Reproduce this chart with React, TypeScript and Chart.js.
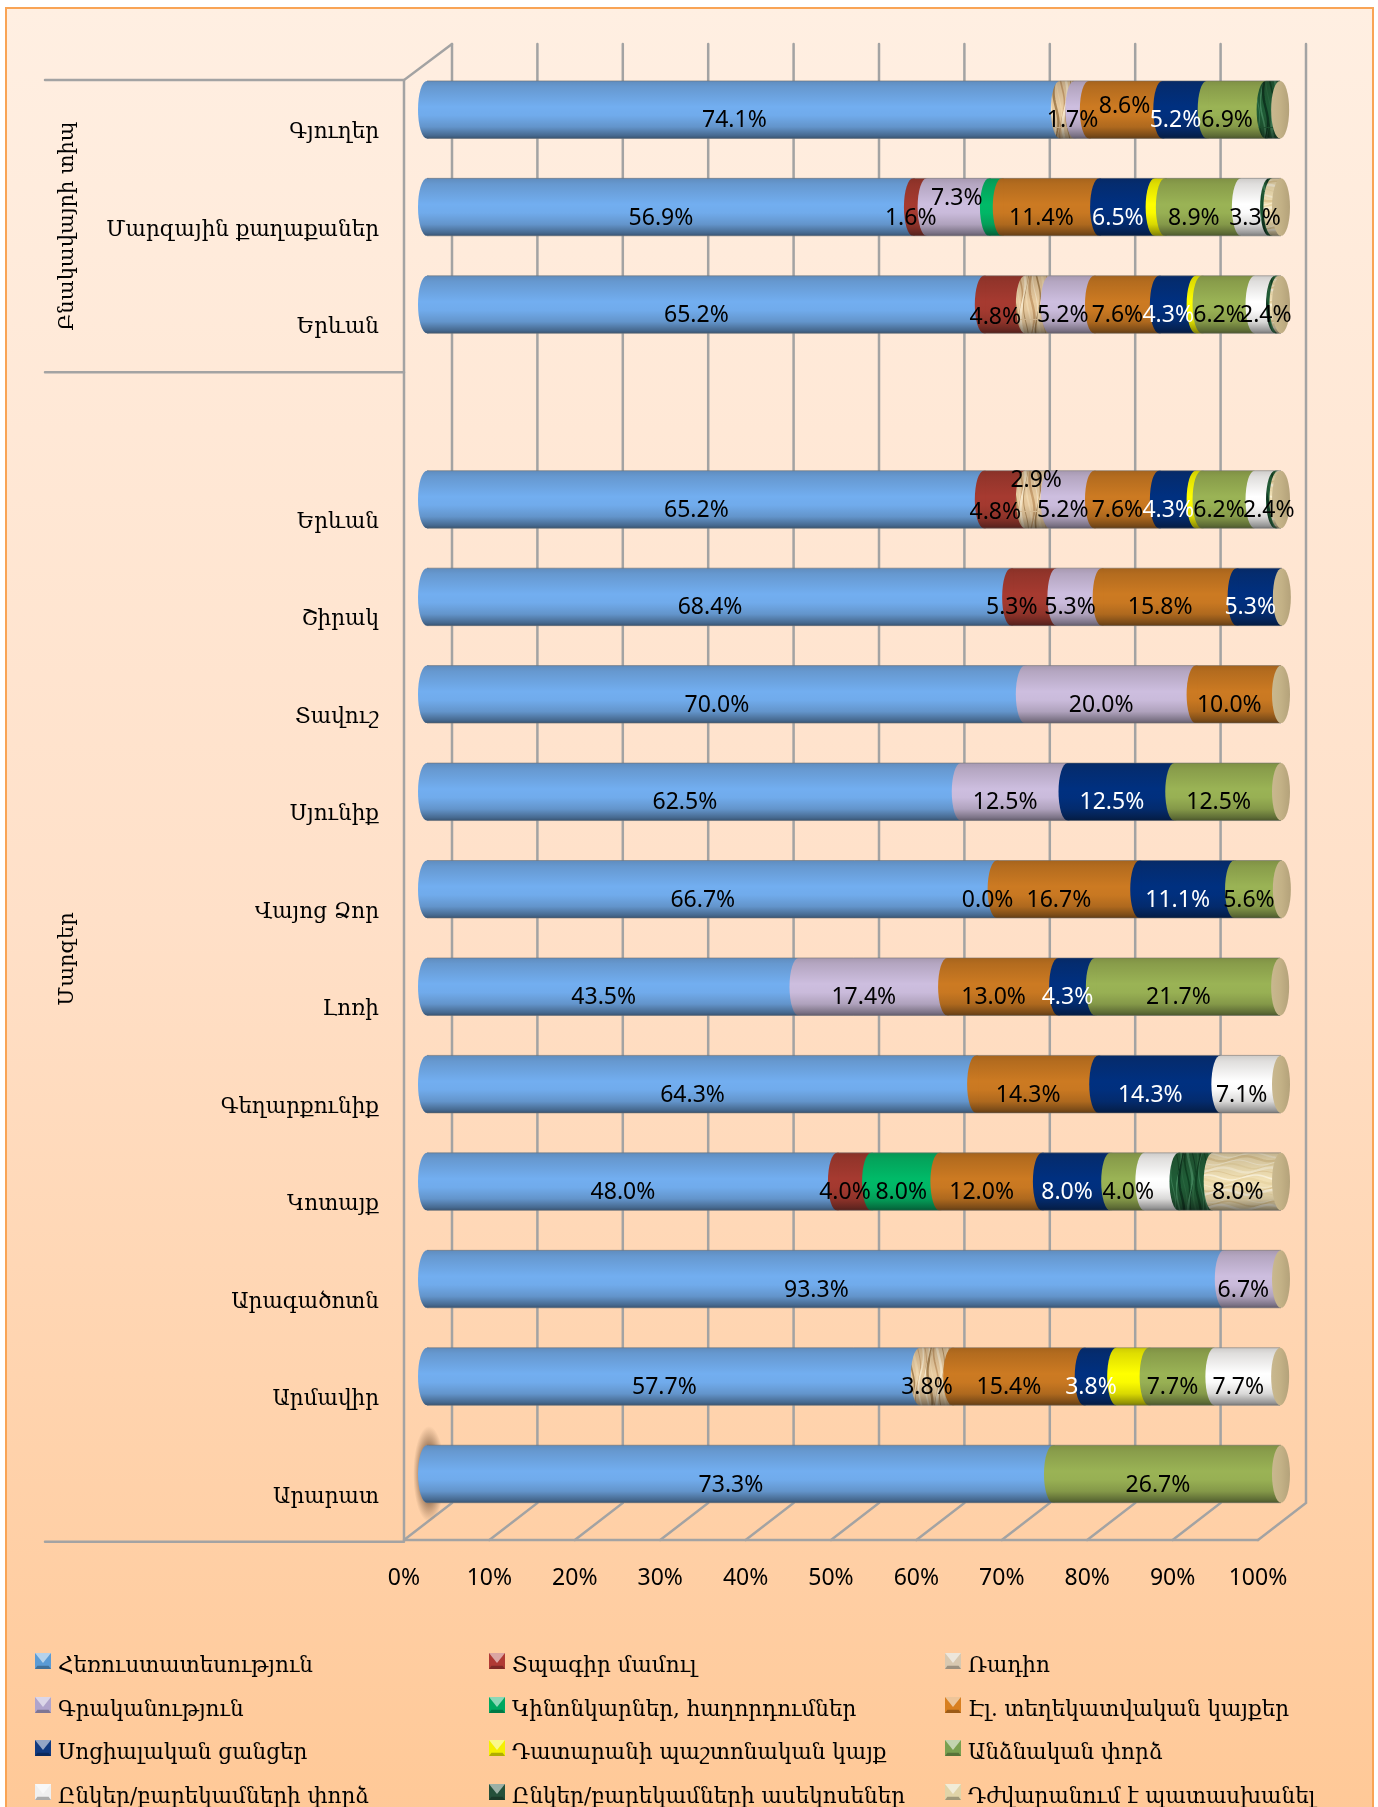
import React, { useEffect, useRef } from "react";
import { Chart, registerables } from "chart.js";

Chart.register(...registerables);

const n = null;
const categories = ["Գյուղեր", "Մարզային քաղաքաներ", "Երևան", "", "Երևան", "Շիրակ", "Տավուշ", "Սյունիք", "Վայոց Ձոր", "Լոռի", "Գեղարքունիք", "Կոտայք", "Արագածոտն", "Արմավիր", "Արարատ"];
const xTicks = [0, 10, 20, 30, 40, 50, 60, 70, 80, 90, 100];

const tv = [74.1, 56.9, 65.2, n, 65.2, 68.4, 70.0, 62.5, 66.7, 43.5, 64.3, 48.0, 93.3, 57.7, 73.3];
const print = [n, 1.6, 4.8, n, 4.8, 5.3, n, n, n, n, n, 4.0, n, n, n];
const radio = [1.7, n, 2.9, n, 2.9, n, n, n, n, n, n, n, n, 3.8, n];
const literature = [1.7, 7.3, 5.2, n, 5.2, 5.3, 20.0, 12.5, 0.0, 17.4, n, n, 6.7, n, n];
const films = [n, 1.5, n, n, n, n, n, n, n, n, n, 8.0, n, n, n];
const sites = [8.6, 11.4, 7.6, n, 7.6, 15.8, 10.0, n, 16.7, 13.0, 14.3, 12.0, n, 15.4, n];
const social = [5.2, 6.5, 4.3, n, 4.3, 5.3, n, 12.5, 11.1, 4.3, 14.3, 8.0, n, 3.8, n];
const court = [n, 1.2, 0.7, n, 0.7, n, n, n, n, n, n, n, n, 3.8, n];
const personal = [6.9, 8.9, 6.2, n, 6.2, n, n, 12.5, 5.6, 21.7, n, 4.0, n, 7.7, 26.7];
const friends = [n, 3.3, 2.4, n, 2.4, n, n, n, n, n, 7.1, 4.0, n, 7.7, n];
const gossip = [1.7, 0.4, 0.4, n, 0.4, n, n, n, n, n, n, 4.0, n, n, n];
const hard = [n, 1.0, 0.3, n, 0.3, n, n, n, n, n, n, 8.0, n, n, n];

const seriesNames = ["Հեռուստատեսություն", "Տպագիր մամուլ", "Ռադիո", "Գրականություն", "Կինոնկարներ, հաղորդումներ", "Էլ. տեղեկատվական կայքեր", "Սոցիալական ցանցեր", "Դատարանի պաշտոնական կայք", "Անձնական փորձ", "Ընկեր/բարեկամների փորձ", "Ընկեր/բարեկամների ասեկոսեներ", "Դժվարանում է պատասխանել"];
const seriesValues = [tv, print, radio, literature, films, sites, social, court, personal, friends, gossip, hard];
const seriesColors = ["#72AEF0", "#A63A30", "#E6C79A", "#CDBEDF", "#00BA68", "#CC7A22", "#003080", "#FFFF00", "#9AB355", "#FFFFFF", "#1B5530", "#EFDDB0"];
const legendColors = ["#5B9BD5", "#B03A34", "#D8C8B0", "#B0A4CC", "#00A860", "#D87F20", "#103A80", "#F4F000", "#79A050", "#F0F0F0", "#24503A", "#E0D4A8"];
const labelColors = ["#000", "#000", "#000", "#000", "#000", "#000", "#FFF", "#000", "#000", "#000", "#000", "#000"];

const groups = [
  { name: "Բնակավայրի տիպ", first: 0, last: 3 },
  { name: "Մարզեր", first: 3, last: 15 },
];

// Labels that the reference leaves out, by series index: row numbers
const hiddenLabels: Record<number, number[]> = { 2: [0, 2], 4: [1], 7: [1, 2, 4, 13], 9: [11], 10: [0, 1, 2, 4, 11], 11: [1, 2, 4] };
// Labels moved aside in the reference: "series:row" -> [dx, dy]
const labelShift: Record<string, [number, number]> = {
  "5:0": [8, -14], "3:1": [8, -20], "2:4": [8, -30], "9:1": [9, 0], "9:2": [10, 0], "9:4": [13, 0],
  "1:5": [-13, 0], "4:11": [5, 0], "8:11": [10, 0], "1:2": [0, 2], "1:4": [0, 2],
};

const FONT_NUM = '"Noto Sans", sans-serif';
const FONT_ARM = '"DejaVu Serif", "DejaVu Sans", serif';
const RX = 9;
const DX = 25, DY = 18;

function texture(base: string, strokes: string[], w: number, h: number, across: boolean, count: number) {
  const c = document.createElement("canvas");
  c.width = w; c.height = h;
  const g = c.getContext("2d")!;
  g.fillStyle = base;
  g.fillRect(0, 0, w, h);
  const span = across ? h : w;
  const len = across ? w : h;
  for (let i = 0; i < count; i++) {
    g.strokeStyle = strokes[i % strokes.length];
    g.lineWidth = 0.8 + (i % 3) * 0.8;
    g.beginPath();
    const p0 = (i * span) / count;
    for (let t = 0; t <= len; t += 3) {
      const p = p0 + Math.sin((t / len) * Math.PI * 2 + i) * 2.5;
      const px = across ? t : p;
      const py = across ? p : t;
      if (t === 0) g.moveTo(px, py); else g.lineTo(px, py);
    }
    g.stroke();
  }
  return g.createPattern(c, "repeat")!;
}

const cylinderPlugin = {
  id: "cylinder",
  beforeDraw(chart: any) {
    const { ctx, width, height } = chart;
    ctx.save();
    ctx.fillStyle = "#FFFFFF";
    ctx.fillRect(0, 0, width, height);
    const g = ctx.createLinearGradient(0, 8, 0, 1830);
    g.addColorStop(0, "#FFEFE2");
    g.addColorStop(0.5, "#FFE0C8");
    g.addColorStop(1, "#FFC896");
    ctx.fillStyle = g;
    ctx.fillRect(6, 8, 1367, height);
    ctx.strokeStyle = "#F9A455";
    ctx.lineWidth = 2;
    ctx.strokeRect(6, 8, 1367, height + 10);
    ctx.restore();
  },
  beforeDatasetsDraw(chart: any) {
    const { ctx, scales } = chart;
    const x = scales.x, y = scales.y;
    const yTop = 44, yBack = 1503, yFront = 1540, yFrontTop = 80;
    ctx.save();
    ctx.strokeStyle = "#A3A3A3";
    ctx.lineWidth = 2.5;
    ctx.lineCap = "round";
    xTicks.forEach((t) => {
      const px = x.getPixelForValue(t);
      ctx.beginPath();
      ctx.moveTo(px + DX, yTop);
      ctx.lineTo(px + DX, yBack);
      ctx.lineTo(px - 23, yFront);
      ctx.stroke();
    });
    const x0 = x.getPixelForValue(0) - 23, x1 = x.getPixelForValue(100) - 23;
    ctx.beginPath();
    ctx.moveTo(x0 + 48, yTop);
    ctx.lineTo(x0, yFrontTop);
    ctx.lineTo(x0, yFront);
    ctx.lineTo(x1, yFront);
    ctx.stroke();
    // multi-level category separators
    const step = (y.bottom - y.top) / categories.length;
    ctx.beginPath();
    groups.forEach((gr) => {
      [gr.first, gr.last].forEach((b) => {
        const py = y.top + b * step + DY + 1;
        ctx.moveTo(45, py);
        ctx.lineTo(x0, py);
      });
    });
    ctx.stroke();
    // glow behind the first bar of the last row
    const cy = y.getPixelForValue(categories.length - 1);
    const cx = x.getPixelForValue(0) + 2;
    ctx.translate(cx, cy);
    ctx.scale(0.33, 1);
    const gl = ctx.createRadialGradient(0, 0, 0, 0, 0, 48);
    gl.addColorStop(0, "rgba(125,90,65,0.75)");
    gl.addColorStop(0.62, "rgba(135,100,72,0.68)");
    gl.addColorStop(1, "rgba(150,115,85,0)");
    ctx.fillStyle = gl;
    ctx.beginPath();
    ctx.arc(0, 0, 48, 0, Math.PI * 2);
    ctx.fill();
    ctx.restore();
  },
  afterDatasetsDraw(chart: any) {
    const { ctx, data } = chart;
    const metas = data.datasets.map((_: any, i: number) => chart.getDatasetMeta(i));
    ctx.save();
    // curved joints between the segments
    metas.forEach((m: any, i: number) => {
      m.data.forEach((el: any, r: number) => {
        if (data.datasets[i].data[r] == null || !(el.x > el.base)) return;
        const top = el.y - el.height / 2;
        const right = Math.min(el.base + 2, el.x);
        ctx.fillStyle = data.datasets[i].backgroundColor;
        ctx.beginPath();
        ctx.ellipse(el.base, el.y, RX, el.height / 2, 0, Math.PI / 2, (3 * Math.PI) / 2);
        ctx.lineTo(right, top);
        ctx.lineTo(right, top + el.height);
        ctx.closePath();
        ctx.fill();
      });
    });
    // cylinder shading and end caps
    categories.forEach((_, r) => {
      let lo = Infinity, hi = -Infinity, yc = 0, h = 0;
      metas.forEach((m: any, i: number) => {
        const el = m.data[r];
        if (data.datasets[i].data[r] == null || !(el.x > el.base)) return;
        lo = Math.min(lo, el.base); hi = Math.max(hi, el.x); yc = el.y; h = el.height;
      });
      if (hi < lo) return;
      const top = yc - h / 2;
      const g = ctx.createLinearGradient(0, top, 0, top + h);
      g.addColorStop(0, "rgba(30,20,10,0.22)");
      g.addColorStop(0.1, "rgba(30,20,10,0.14)");
      g.addColorStop(0.45, "rgba(30,20,10,0)");
      g.addColorStop(0.6, "rgba(30,20,10,0.02)");
      g.addColorStop(0.8, "rgba(20,15,10,0.16)");
      g.addColorStop(0.95, "rgba(10,10,10,0.42)");
      g.addColorStop(1, "rgba(10,10,10,0.55)");
      ctx.fillStyle = g;
      ctx.beginPath();
      ctx.ellipse(lo, yc, RX, h / 2, 0, Math.PI / 2, (3 * Math.PI) / 2);
      ctx.lineTo(hi, top);
      ctx.lineTo(hi, top + h);
      ctx.closePath();
      ctx.fill();
      ctx.strokeStyle = "rgba(110,110,110,0.55)";
      ctx.lineWidth = 1;
      ctx.beginPath();
      ctx.moveTo(lo, top); ctx.lineTo(hi, top);
      ctx.moveTo(lo, top + h); ctx.lineTo(hi, top + h);
      ctx.stroke();
      const cap = ctx.createLinearGradient(hi - RX, 0, hi + RX, 0);
      cap.addColorStop(0, "#C9B88F");
      cap.addColorStop(0.5, "#C3B186");
      cap.addColorStop(1, "#B4A27A");
      ctx.fillStyle = cap;
      ctx.beginPath();
      ctx.ellipse(hi, yc, RX, h / 2, 0, 0, Math.PI * 2);
      ctx.fill();
    });
    // value labels
    ctx.font = `23px ${FONT_NUM}`;
    ctx.textAlign = "center";
    ctx.textBaseline = "middle";
    metas.forEach((m: any, i: number) => {
      m.data.forEach((el: any, r: number) => {
        const v = data.datasets[i].data[r];
        if (v == null || (hiddenLabels[i] || []).includes(r)) return;
        const [dx, dy] = labelShift[`${i}:${r}`] || [0, 0];
        ctx.fillStyle = labelColors[i];
        ctx.fillText(`${v.toFixed(1)}%`, (el.base + el.x) / 2 - 9 + dx, el.y + 11 + dy);
      });
    });
    ctx.restore();
  },
  afterDraw(chart: any) {
    const { ctx, scales } = chart;
    const y = scales.y;
    const step = (y.bottom - y.top) / categories.length;
    ctx.save();
    ctx.fillStyle = "#000";
    ctx.font = `21px ${FONT_ARM}`;
    ctx.textAlign = "center";
    ctx.textBaseline = "middle";
    groups.forEach((gr) => {
      const py = y.top + ((gr.first + gr.last) / 2) * step + DY + (gr.first === 0 ? 1 : 3);
      ctx.save();
      ctx.translate(68, py);
      ctx.rotate(-Math.PI / 2);
      ctx.fillText(gr.name, 0, 0);
      ctx.restore();
    });
    // legend: three columns, four rows
    const colX = [35, 489, 945];
    const rowY = [1661, 1705, 1748, 1792];
    ctx.font = `21.5px ${FONT_ARM}`;
    ctx.textAlign = "left";
    seriesNames.forEach((name, i) => {
      const sx = colX[i % 3], sy = rowY[Math.floor(i / 3)];
      const s = 16;
      const l = sy - s / 2;
      ctx.fillStyle = legendColors[i];
      ctx.fillRect(sx, l, s, s);
      ctx.fillStyle = "rgba(255,255,255,0.55)";
      ctx.beginPath();
      ctx.moveTo(sx, l); ctx.lineTo(sx + s, l); ctx.lineTo(sx + s / 2, l + s * 0.62); ctx.closePath();
      ctx.fill();
      ctx.fillStyle = "rgba(0,0,0,0.28)";
      ctx.beginPath();
      ctx.moveTo(sx, l + s); ctx.lineTo(sx + s, l + s); ctx.lineTo(sx + s * 0.85, l + s * 0.8); ctx.lineTo(sx + s * 0.15, l + s * 0.8); ctx.closePath();
      ctx.fill();
      ctx.fillStyle = "#000";
      ctx.fillText(name, sx + 23, sy + 5);
    });
    ctx.restore();
  },
};

export default function App() {
  const ref = useRef<HTMLCanvasElement>(null);
  useEffect(() => {
    document.body.style.margin = "0";
    const canvas = ref.current!;
    const fills: any[] = seriesColors.slice();
    fills[2] = texture("#E8CBA0", ["#C9A070", "#F6E6C8", "#A98555", "#F0D8B0"], 42, 64, false, 14);
    fills[10] = texture("#1F5C36", ["#0F4022", "#3F8259", "#0D3620", "#2C6A42"], 28, 64, false, 10);
    fills[11] = texture("#F1E0B4", ["#F8EDCE", "#E3CC98", "#FAF1D8", "#EAD7A6"], 48, 60, true, 16);
    const chart = new Chart(canvas, {
      type: "bar",
      plugins: [cylinderPlugin],
      data: {
        labels: categories,
        datasets: seriesNames.map((label, i) => ({
          label,
          data: seriesValues[i],
          backgroundColor: fills[i],
          borderWidth: 0,
          categoryPercentage: 1,
          barPercentage: 0.59,
          clip: false,
        })),
      },
      options: {
        indexAxis: "y",
        animation: false,
        responsive: false,
        devicePixelRatio: 1,
        layout: { padding: { left: 0, right: 97, top: 60.8, bottom: 0 } },
        plugins: { legend: { display: false }, tooltip: { enabled: false }, title: { display: false } },
        scales: {
          x: {
            stacked: true,
            min: 0,
            max: 100,
            afterFit: (s: any) => { s.height = 284.3; },
            grid: { display: false, drawTicks: false },
            border: { display: false },
            afterBuildTicks: (s: any) => { s.ticks = xTicks.map((value) => ({ value })); },
            ticks: {
              autoSkip: false,
              maxRotation: 0,
              color: "#000",
              font: { family: FONT_NUM, size: 23 },
              padding: 42,
              labelOffset: -23,
              callback: (v: any) => `${v}%`,
            },
          },
          y: {
            stacked: true,
            afterFit: (s: any) => { s.width = 427; },
            grid: { display: false, drawTicks: false },
            border: { display: false },
            ticks: {
              autoSkip: false,
              color: "#000",
              font: { family: FONT_ARM, size: 21.5 },
              padding: 48,
              labelOffset: 23,
            },
          },
        },
      },
    } as any);
    return () => chart.destroy();
  }, []);
  return <canvas ref={ref} width={1378} height={1807} style={{ display: "block" }} />;
}
